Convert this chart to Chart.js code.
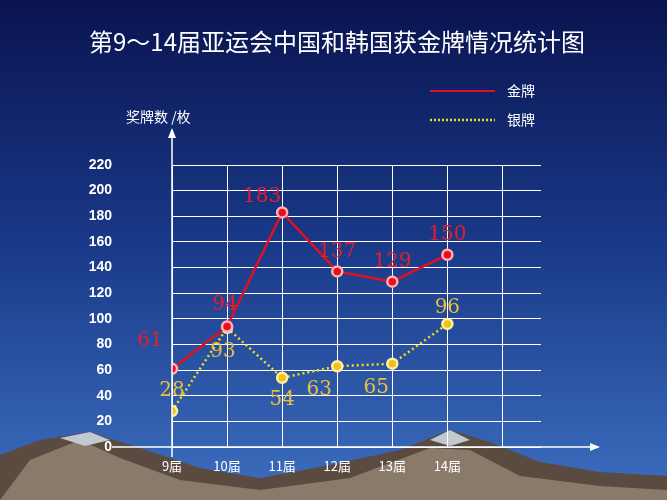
<!DOCTYPE html>
<html><head><meta charset="utf-8">
<script src="https://cdn.jsdelivr.net/npm/chart.js@4/dist/chart.umd.min.js"></script>
<style>html,body{margin:0;padding:0;}canvas{display:block;}</style>
</head><body>
<canvas id="c" width="667" height="500"></canvas>
<script>
const categories = ['9届','10届','11届','12届','13届','14届'];
const sessions = [9,10,11,12,13,14];
const gold = [61,94,183,137,129,150];
const silver = [28,93,54,63,65,96];
const yTicks = [0,20,40,60,80,100,120,140,160,180,200,220];

const bg = {
  id:'bg',
  beforeDraw(ch){
    const c=ch.ctx,W=ch.width,H=ch.height;
    const g=c.createLinearGradient(0,0,0,H);
    g.addColorStop(0,'#0a1450');g.addColorStop(0.5,'#1a3a8a');g.addColorStop(1,'#3d6fc0');
    c.save();c.fillStyle=g;c.fillRect(0,0,W,H);
    c.fillStyle='#5a4a40';
    c.beginPath();c.moveTo(0,H);c.lineTo(0,455);c.lineTo(40,440);c.lineTo(90,432);c.lineTo(140,448);
    c.lineTo(200,468);c.lineTo(260,478);c.lineTo(330,465);c.lineTo(400,450);c.lineTo(450,430);
    c.lineTo(490,442);c.lineTo(540,462);c.lineTo(600,472);c.lineTo(667,476);c.lineTo(667,H);c.closePath();c.fill();
    c.fillStyle='#8a7a6a';
    c.beginPath();c.moveTo(0,H);c.lineTo(30,460);c.lineTo(80,440);c.lineTo(120,458);c.lineTo(180,480);c.lineTo(260,490);
    c.lineTo(350,478);c.lineTo(430,448);c.lineTo(470,450);c.lineTo(520,476);c.lineTo(600,486);c.lineTo(667,490);c.lineTo(667,H);c.closePath();c.fill();
    c.fillStyle='#c0c8d0';
    c.beginPath();c.moveTo(60,438);c.lineTo(90,432);c.lineTo(110,440);c.lineTo(85,446);c.closePath();c.fill();
    c.beginPath();c.moveTo(430,440);c.lineTo(450,430);c.lineTo(470,440);c.lineTo(450,446);c.closePath();c.fill();
    c.restore();
  },
  afterDraw(ch){
    const c=ch.ctx,a=ch.chartArea,xs=ch.scales.x;
    c.save();
    c.fillStyle='#fff';c.textAlign='center';c.textBaseline='middle';
    c.font='24px "Noto Sans CJK SC"';
    c.fillText('第9～14届亚运会中国和韩国获金牌情况统计图',337,42);
    c.font='13px "Noto Sans CJK SC"';
    sessions.forEach((v,i)=>c.fillText(categories[i],xs.getPixelForValue(v),a.bottom+19));
    c.font='14px "Noto Sans CJK SC"';c.textAlign='left';
    c.fillText('奖牌数 /枚',126,117);
    c.strokeStyle='#fff';c.lineWidth=1.5;
    c.beginPath();c.moveTo(112,a.bottom);c.lineTo(598,a.bottom);c.moveTo(a.left,a.bottom+10);c.lineTo(a.left,130);c.stroke();
    c.fillStyle='#fff';
    c.beginPath();c.moveTo(600,a.bottom);c.lineTo(590,a.bottom-4);c.lineTo(590,a.bottom+4);c.fill();
    c.beginPath();c.moveTo(a.left,128);c.lineTo(a.left-4,138);c.lineTo(a.left+4,138);c.fill();
    c.strokeStyle='#e01020';c.lineWidth=2;c.beginPath();c.moveTo(430,91);c.lineTo(495,91);c.stroke();
    c.strokeStyle='#f0e020';c.setLineDash([2,2]);c.lineWidth=2.5;c.beginPath();c.moveTo(430,120);c.lineTo(495,120);c.stroke();c.setLineDash([]);
    c.font='14px "Noto Sans CJK SC"';c.fillStyle='#fff';
    c.fillText('金牌',507,91);c.fillText('银牌',507,120);
    c.font='20px "DejaVu Serif"';c.textAlign='center';
    const gOff=[[-22,-28],[-2,-22],[-20,-16],[0,-20],[0,-20],[0,-20]];
    const sOff=[[0,-20],[-4,24],[0,22],[-18,24],[-16,24],[0,-16]];
    ch.getDatasetMeta(0).data.forEach((p,i)=>{c.fillStyle='#e0202a';c.fillText(String(gold[i]),p.x+gOff[i][0],p.y+gOff[i][1]);});
    ch.getDatasetMeta(1).data.forEach((p,i)=>{c.fillStyle='#e8c040';c.fillText(String(silver[i]),p.x+sOff[i][0],p.y+sOff[i][1]);});
    c.restore();
  }
};

new Chart(document.getElementById('c'),{
  type:'line',
  data:{datasets:[
    {data:sessions.map((x,i)=>({x,y:gold[i]})),borderColor:'#e01020',borderWidth:2.5,pointBackgroundColor:'#e81020',pointBorderColor:'#ffb0b0',pointRadius:5,tension:0},
    {data:sessions.map((x,i)=>({x,y:silver[i]})),borderColor:'#f0e020',borderWidth:2.5,borderDash:[2,3],pointBackgroundColor:'#f0c020',pointBorderColor:'#fff0a0',pointRadius:5,tension:0}
  ]},
  plugins:[bg],
  options:{
    responsive:false,animation:false,
    layout:{padding:{left:72,right:126,top:165,bottom:53}},
    plugins:{legend:{display:false},tooltip:{enabled:false}},
    scales:{
      x:{type:'linear',min:9,max:15.7,display:'auto',
        afterFit(s){s.height=0;s.paddingTop=0;s.paddingBottom=0;},
        afterBuildTicks(s){s.ticks=[9,10,11,12,13,14,15].map(v=>({value:v}));},
        grid:{color:'#fff',lineWidth:1,drawTicks:false},border:{display:false},
        ticks:{display:false}},
      y:{min:0,max:220,
        afterFit(s){s.width=100;s.paddingTop=0;s.paddingBottom=0;},
        afterBuildTicks(s){s.ticks=yTicks.map(v=>({value:v}));},
        grid:{color:'#fff',lineWidth:1,drawTicks:false},border:{display:false},
        ticks:{color:'#fff',padding:60,font:{size:14,weight:'bold',family:'"Liberation Sans"'}}}
    }
  }
});
</script></body></html>
